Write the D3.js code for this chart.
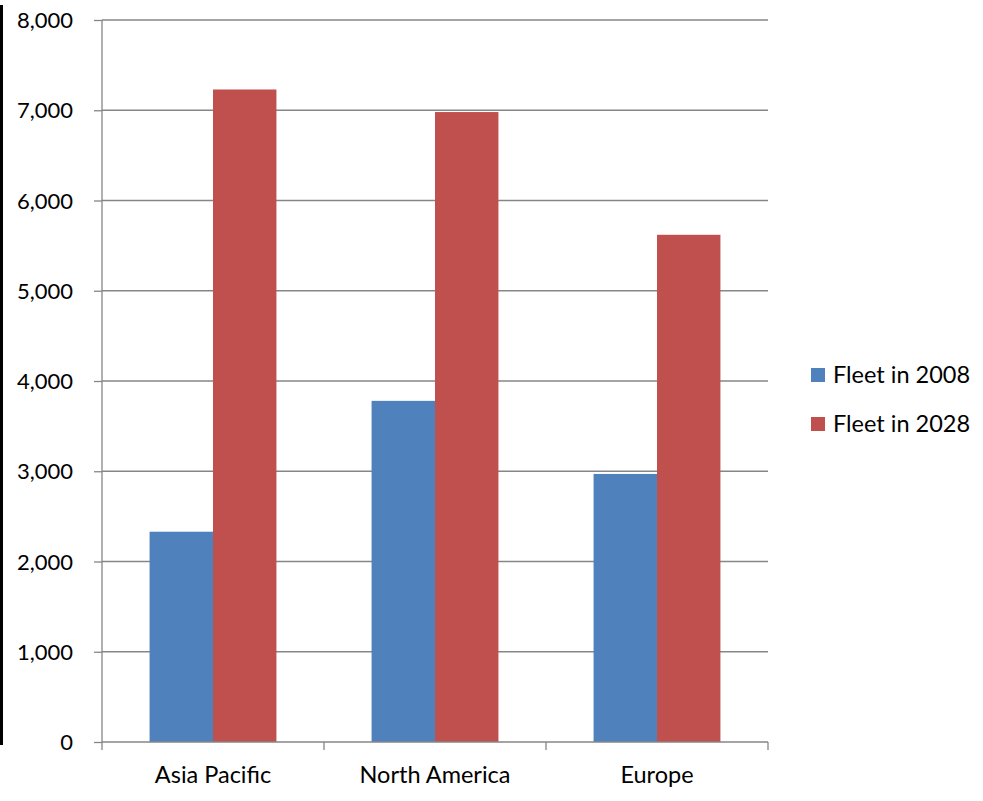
<!DOCTYPE html>
<html><head><meta charset="utf-8">
<script src="https://cdn.jsdelivr.net/npm/d3@7"></script>
<style>body{margin:0;background:#fff;} svg{display:block;font-family:Lato, "Open Sans", sans-serif;}</style>
</head><body>
<svg id="chart" width="983" height="801"></svg>
<script>
const categories = ["Asia Pacific", "North America", "Europe"];
const seriesNames = ["Fleet in 2008", "Fleet in 2028"];
const fleet2008 = [2330, 3780, 2970];
const fleet2028 = [7230, 6980, 5620];
const yTicks = [0, 1000, 2000, 3000, 4000, 5000, 6000, 7000, 8000];
const colors = ["#4F81BD", "#C0504D"];

(function () {
const svg = d3.select("#chart");
const pLeft = 102, pRight = 768, pTop = 20, pBottom = 742;
const x = d3.scaleBand().domain(categories).range([pLeft, pRight]).paddingInner(0).paddingOuter(0);
const bw = x.bandwidth() / 3.5;
const xs = d3.scaleBand().domain(seriesNames).range([0, 2 * bw]);
const y = d3.scaleLinear().domain([0, 8000]).range([pBottom, pTop]);

// left border line
svg.append("rect").attr("x", 0).attr("y", 5).attr("width", 3).attr("height", 740).attr("fill", "#000");

// gridlines
svg.append("g").selectAll("line").data(yTicks.filter(d => d > 0)).join("line")
  .attr("x1", pLeft).attr("x2", pRight).attr("y1", d => y(d)).attr("y2", d => y(d))
  .attr("stroke", "#868686").attr("stroke-width", 1.3);

// bars
const data = categories.map((c, i) => ({c, vals: [fleet2008[i], fleet2028[i]]}));
const g = svg.append("g");
data.forEach(d => {
  d.vals.forEach((v, j) => {
    g.append("rect")
      .attr("x", x(d.c) + 0.75 * bw + xs(seriesNames[j]))
      .attr("y", y(v)).attr("width", bw).attr("height", y(0) - y(v))
      .attr("fill", colors[j]);
  });
});

// y axis
const yAxis = d3.axisLeft(y).tickValues(yTicks).tickFormat(d3.format(",")).tickSize(8).tickPadding(21);
const ya = svg.append("g").attr("transform", `translate(${pLeft},0)`).call(yAxis);
ya.select(".domain").attr("stroke", "#868686").attr("stroke-width", 1.3).attr("d", `M0,${pTop}V${pBottom}`);
ya.selectAll(".tick line").attr("stroke", "#868686").attr("stroke-width", 1.3);
ya.selectAll("text").attr("font-size", 22).attr("fill", "#000").attr("font-family", "Lato, sans-serif").attr("dy", "0.35em");

// x axis
const xAxis = d3.axisBottom(x).tickSize(0).tickPadding(24);
const xa = svg.append("g").attr("transform", `translate(0,${pBottom})`).call(xAxis);
xa.select(".domain").attr("stroke", "#868686").attr("stroke-width", 1.3).attr("d", `M${pLeft},0H${pRight}`);
xa.selectAll("text").attr("font-size", 23.5).attr("fill", "#000").attr("font-family", "Lato, sans-serif");
const bounds = [pLeft, ...categories.map(c => x(c) + x.bandwidth())];
xa.append("g").selectAll("line").data(bounds).join("line")
  .attr("x1", d => d).attr("x2", d => d).attr("y1", 0).attr("y2", 8)
  .attr("stroke", "#868686").attr("stroke-width", 1.3);

// legend
const lg = svg.append("g").attr("transform", "translate(811,368)");
seriesNames.forEach((s, i) => {
  const row = lg.append("g").attr("transform", `translate(0,${i * 49})`);
  row.append("rect").attr("width", 14).attr("height", 14).attr("fill", colors[i]);
  row.append("text").attr("x", 22).attr("y", 7).attr("dy", "0.35em")
    .attr("font-size", 23.5).attr("fill", "#000").text(s);
});
})();
</script>
</body></html>
